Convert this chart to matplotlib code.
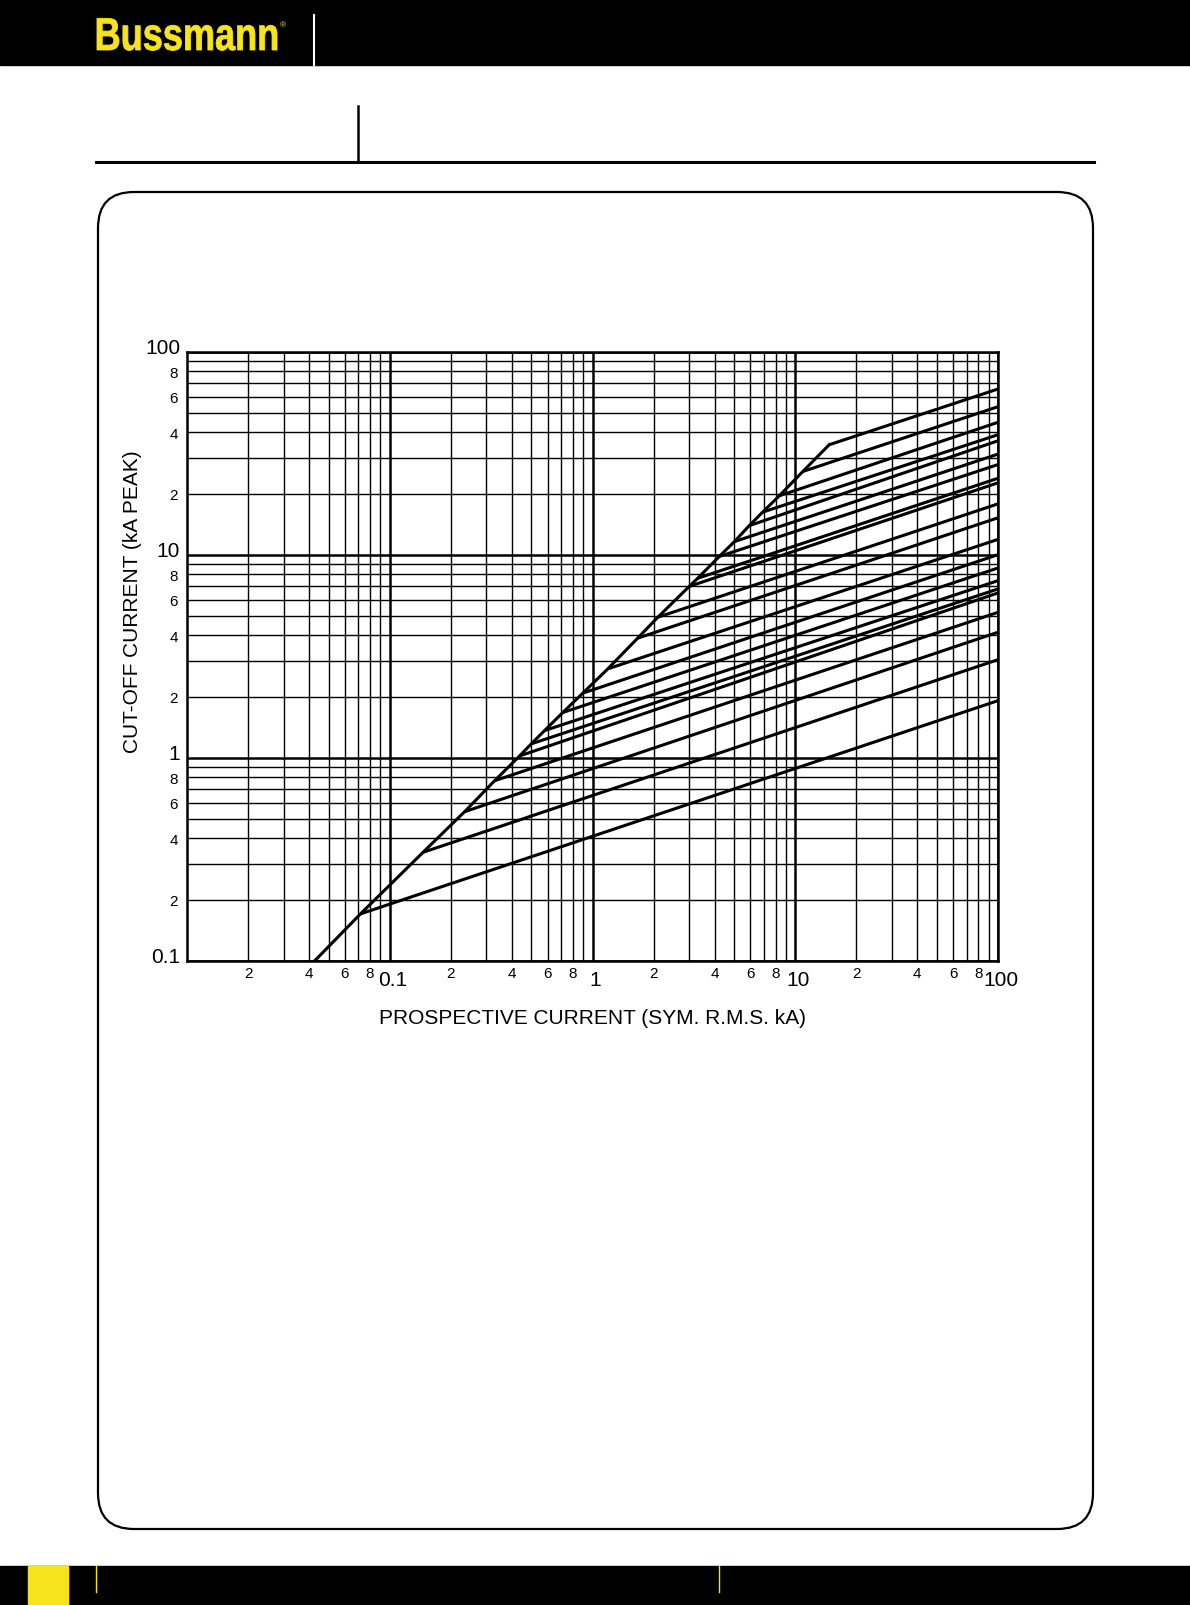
import matplotlib
matplotlib.use("Agg")
import matplotlib.pyplot as plt
from matplotlib.patches import Rectangle, FancyBboxPatch, PathPatch
from matplotlib.textpath import TextPath
from matplotlib.font_manager import FontProperties
from matplotlib.transforms import ScaledTranslation, Affine2D

plt.rcParams['font.family'] = ['Liberation Sans', 'DejaVu Sans']

# Cut-off (let-through) characteristics
# envelope: first point, then it runs through every branch start
env_start_x = 0.0427
env_start_y = 0.1

branch_x0 = [0.0717, 0.146, 0.234, 0.329, 0.437, 0.499, 0.580, 0.714, 0.896, 1.19,
             1.67, 2.10, 3.00, 3.30, 4.22, 5.01, 5.93, 6.90, 8.34, 10.9, 14.7]
branch_y0 = [0.170, 0.342, 0.542, 0.77, 1.02, 1.17, 1.36, 1.67, 2.08, 2.74,
             3.88, 4.92, 6.98, 7.65, 9.8, 11.6, 13.9, 16.2, 19.5, 25.7, 34.8]
branch_x1 = 100.0
branch_y1 = [1.91, 3.04, 4.15, 5.20, 6.48, 6.78, 7.45, 8.6, 10.0, 11.9,
             15.2, 17.8, 22.6, 23.8, 27.8, 31.3, 36.4, 39.0, 44.9, 53.6, 65.5]

x_major = [0.1, 1, 10, 100]
x_major_labels = ['0.1', '1', '10', '100']
y_major = [0.1, 1, 10, 100]
y_major_labels = ['0.1', '1', '10', '100']
decades = [0.01, 0.1, 1, 10]
y_decades = [0.1, 1, 10]
minor_mult = [2, 3, 4, 5, 6, 7, 8, 9]

x_title = 'PROSPECTIVE CURRENT (SYM. R.M.S. kA)'
y_title = 'CUT-OFF CURRENT (kA PEAK)'

yellow = '#f6e31c'

W, H = 1190, 1606
fig = plt.figure(figsize=(W / 100, H / 100), dpi=100)

# page furniture in pixel coordinates
page = fig.add_axes([0, 0, 1, 1], zorder=0)
page.set_xlim(0, W)
page.set_ylim(H, 0)
page.axis('off')

page.add_patch(Rectangle((0, 0), W, 66, color='black'))

# logo: bold sans squeezed horizontally to a condensed look
logo = TextPath((0, 0), 'Bussmann', size=46,
                prop=FontProperties(family='Liberation Sans', weight='bold'))
bb = logo.get_extents()
sx = 180 / bb.width
logo_tr = Affine2D().translate(-bb.x0, 0).scale(sx, -1).translate(97, 51)
page.add_patch(PathPatch(logo_tr.transform_path(logo), fc=yellow, ec=yellow, lw=0.6))
page.text(280, 27, '®', color=yellow, fontsize=6, ha='left', va='baseline')
page.plot([314, 314], [16, 66], color='white', lw=1.5)

page.plot([96, 1094], [163, 163], color='black', lw=2.2)
page.plot([358, 358], [107, 163], color='black', lw=1.8)

page.add_patch(FancyBboxPatch((98, 193), 995, 1337,
                              boxstyle='round,pad=0,rounding_size=36',
                              fill=False, ec='black', lw=1.6))

page.add_patch(Rectangle((0, 1567), W, 39, color='black'))
page.add_patch(Rectangle((28, 1567), 40, 39, color=yellow))
page.plot([95.6, 95.6], [1567, 1593], color=yellow, lw=1)
page.plot([719, 719], [1567, 1593], color=yellow, lw=1)

# chart
ax = fig.add_axes([187 / W, 1 - 961.7 / H, 811 / W, 609 / H], zorder=2)
ax.set_xscale('log')
ax.set_yscale('log')
ax.set_xlim(0.01, 100)
ax.set_ylim(0.1, 100)

x_minor = [m * d for d in decades for m in minor_mult]
x_minor_labels = [str(m) if m % 2 == 0 else '' for d in decades for m in minor_mult]
y_minor = [m * d for d in y_decades for m in minor_mult]
y_minor_labels = [str(m) if m % 2 == 0 else '' for d in y_decades for m in minor_mult]

ax.set_xticks(x_major, labels=x_major_labels)
ax.set_xticks(x_minor, labels=x_minor_labels, minor=True)
ax.set_yticks(y_major, labels=y_major_labels)
ax.set_yticks(y_minor, labels=y_minor_labels, minor=True)

ax.tick_params(which='both', length=0)
ax.tick_params(axis='x', which='major', labelsize=15, pad=7)
ax.tick_params(axis='x', which='minor', labelsize=11, pad=3.5)
ax.tick_params(axis='y', which='major', labelsize=15, pad=5)
ax.tick_params(axis='y', which='minor', labelsize=11, pad=6.5)

for lab in ax.get_xticklabels():
    lab.set_transform(lab.get_transform() + ScaledTranslation(0.03, 0, fig.dpi_scale_trans))
for lab in ax.get_yticklabels():
    lab.set_transform(lab.get_transform() + ScaledTranslation(0, 0.06, fig.dpi_scale_trans))

ax.grid(which='minor', color='black', lw=1.0)
ax.grid(which='major', color='black', lw=1.8)
for s in ax.spines.values():
    s.set_linewidth(1.8)

# envelope line and branches
ax.plot([env_start_x] + branch_x0, [env_start_y] + branch_y0, color='black', lw=2.2,
        solid_joinstyle='miter')
for x0, y0, y1 in zip(branch_x0, branch_y0, branch_y1):
    ax.plot([x0, branch_x1], [y0, y1], color='black', lw=2.2, solid_capstyle='butt')

ax.set_xlabel(x_title, fontsize=15)
ax.xaxis.set_label_coords(0.5, -0.094)
ax.xaxis.label.set_va('center')
ax.set_ylabel(y_title, fontsize=15)
ax.yaxis.set_label_coords(-0.0666, 0.591)
ax.yaxis.label.set_va('center')

fig.savefig('out.png', dpi=100)
